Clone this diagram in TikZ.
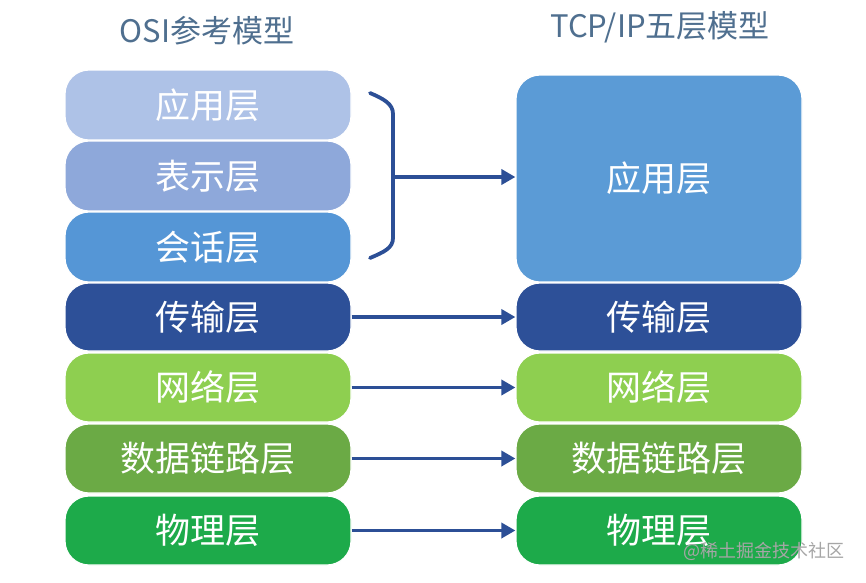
\documentclass[tikz,border=0pt]{standalone}
\usepackage{fontspec}
\newfontfamily\cjk{Noto Sans CJK SC}
\usetikzlibrary{arrows.meta}
\definecolor{titlec}{HTML}{4F6F8F}
\definecolor{cApp}{HTML}{AEC2E7}
\definecolor{cPres}{HTML}{8EA8DA}
\definecolor{cSess}{HTML}{5596D6}
\definecolor{cTrans}{HTML}{2D5098}
\definecolor{cNet}{HTML}{8ECF50}
\definecolor{cLink}{HTML}{6BAA45}
\definecolor{cPhy}{HTML}{1DAA4A}
\definecolor{cBigApp}{HTML}{5B9BD6}
\definecolor{arrowc}{HTML}{2C4F96}
\tikzset{
  layer/.style={rounded corners=24pt, draw=white, line width=1.2pt, text=white,
    minimum width=286pt, inner sep=0pt, font=\cjk\fontsize{35}{38}\selectfont},
  conn/.style={draw=arrowc, line width=3.5pt, -{Triangle[length=14pt,width=15pt]}},
  brace/.style={draw=arrowc, line width=3.8pt, line cap=round},
  ttl/.style={text=titlec, font=\cjk\fontsize{31}{34}\selectfont}
}
\begin{document}
\begin{tikzpicture}[x=1pt,y=-1pt]
\useasboundingbox (0,0) rectangle (866,582);
\fill[white] (0,0) rectangle (866,582);
% titles
\node[ttl] (t1) at (207,31) {OSI参考模型};
\node[ttl] (t2) at (660,27) {TCP/IP五层模型};
% left column
\node[layer, fill=cApp, minimum height=70pt] (oA) at (208,105) {应用层};
\node[layer, fill=cPres, minimum height=70pt] (oP) at (208,176) {表示层};
\node[layer, fill=cSess, minimum height=70pt] (oS) at (208,247) {会话层};
\node[layer, fill=cTrans, minimum height=68pt] (oT) at (208,317) {传输层};
\node[layer, fill=cNet, minimum height=69pt] (oN) at (208,387.5) {网络层};
\node[layer, fill=cLink, minimum height=69pt] (oL) at (208,458.5) {数据链路层};
\node[layer, fill=cPhy, minimum height=69pt] (oY) at (208,530.5) {物理层};
% right column
\node[layer, fill=cBigApp, minimum height=207pt] (tA) at (659,178.5) {应用层};
\node[layer, fill=cTrans, minimum height=68pt] (tT) at (659,317) {传输层};
\node[layer, fill=cNet, minimum height=69pt] (tN) at (659,387.5) {网络层};
\node[layer, fill=cLink, minimum height=69pt] (tL) at (659,458.5) {数据链路层};
\node[layer, fill=cPhy, minimum height=69pt] (tY) at (659,530.5) {物理层};
% brace
\coordinate (b1) at (370,93);
\coordinate (b2) at (393,114);
\coordinate (b3) at (393,238);
\coordinate (b4) at (370,258);
\coordinate (bm) at (393,177);
\draw[brace] (b1) .. controls (384,99) and (393,104) .. (b2) -- (b3) .. controls (393,248) and (384,252) .. (b4);
\draw[conn] (bm) -- (tA.west |- bm);
% arrows
\draw[conn] (oT.east) -- (tT.west);
\draw[conn] (oN.east) -- (tN.west);
\draw[conn] (oL.east) -- (tL.west);
\draw[conn] (oY.east) -- (tY.west);
% watermark
\node[text=black!35, font=\cjk\fontsize{18}{20}\selectfont, anchor=east] (wm) at (848,551) {@稀土掘金技术社区};
\end{tikzpicture}
\end{document}
